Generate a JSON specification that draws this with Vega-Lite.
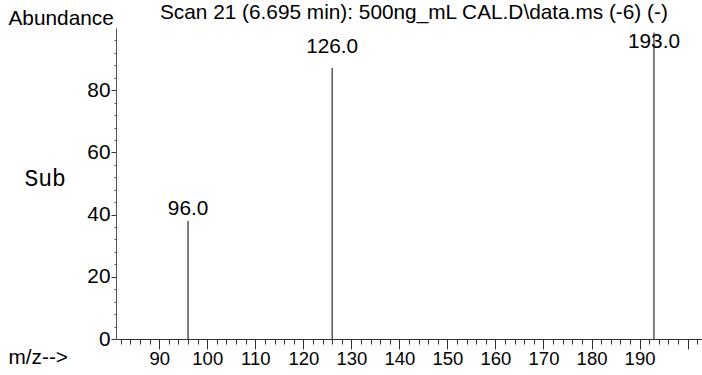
{
  "$schema": "https://vega.github.io/schema/vega-lite/v6.json",
  "width": 586,
  "height": 311,
  "autosize": {"type": "none"},
  "padding": {"left": 116, "top": 28, "right": 0, "bottom": 36},
  "background": "white",
  "title": {
    "text": "Scan 21 (6.695 min): 500ng_mL CAL.D\\data.ms (-6) (-)",
    "anchor": "start",
    "frame": "group",
    "dx": 44,
    "dy": 37,
    "offset": 4,
    "baseline": "alphabetic",
    "font": "Liberation Sans",
    "fontSize": 20.8,
    "fontWeight": "normal",
    "color": "black"
  },
  "data": {
    "values": [
      {"mz": 96, "abundance": 38.0},
      {"mz": 126, "abundance": 87.2},
      {"mz": 193, "abundance": 98.5}
    ]
  },
  "resolve": {"axis": {"x": "independent", "y": "independent"}},
  "layer": [
    {
      "mark": {"type": "rule", "color": "black", "strokeWidth": 1},
      "encoding": {
        "x": {
          "field": "mz", "type": "quantitative",
          "scale": {"domain": [81, 203], "nice": false, "zero": false},
          "axis": {
            "orient": "bottom",
            "values": [90, 100, 110, 120, 130, 140, 150, 160, 170, 180, 190, 200],
            "labelExpr": "datum.value == 200 ? '' : datum.label",
            "labelFontSize": 18.5,
            "tickSize": 10, "labelPadding": 0, "grid": false,
            "domainColor": "#333", "tickColor": "#333",
            "title": "m/z-->", "titleAngle": 0, "titleAlign": "left", "titleBaseline": "middle",
            "titleX": -108, "titleY": 18
          }
        },
        "y": {
          "field": "abundance", "type": "quantitative",
          "scale": {"domain": [0, 100], "nice": false},
          "axis": {
            "orient": "left",
            "values": [0, 20, 40, 60, 80],
            "tickSize": 5, "labelPadding": 1, "grid": false,
            "domainColor": "#555", "tickColor": "#333",
            "title": "Abundance", "titleAngle": 0, "titleAlign": "left", "titleBaseline": "alphabetic",
            "titleX": -108, "titleY": -4
          }
        },
        "y2": {"datum": 0}
      }
    },
    {
      "transform": [{"filter": "datum.mz == 96"}],
      "mark": {"type": "text", "baseline": "alphabetic", "align": "center", "dy": -6, "font": "Liberation Sans", "fontSize": 20.8, "color": "black"},
      "encoding": {
        "x": {
          "field": "mz", "type": "quantitative",
          "axis": {
            "orient": "bottom",
            "values": [82, 84, 86, 88, 92, 94, 96, 98, 102, 104, 106, 108, 112, 114, 116, 118, 122, 124, 126, 128, 132, 134, 136, 138, 142, 144, 146, 148, 152, 154, 156, 158, 162, 164, 166, 168, 172, 174, 176, 178, 182, 184, 186, 188, 192, 194, 196, 198, 202],
            "labels": false, "tickSize": 5, "domain": false, "grid": false, "tickColor": "#333", "title": null
          }
        },
        "y": {
          "field": "abundance", "type": "quantitative",
          "axis": {
            "orient": "left",
            "values": [4, 8, 12, 16, 24, 28, 32, 36, 44, 48, 52, 56, 64, 68, 72, 76, 84, 88, 92, 96],
            "labels": false, "tickSize": 2, "domain": false, "grid": false, "tickColor": "#555",
            "title": "Sub", "titleAngle": 0, "titleAlign": "left", "titleBaseline": "middle",
            "titleX": -92, "titleY": 150, "titleFont": "Liberation Mono", "titleFontSize": 23, "titleFontWeight": "normal", "titleColor": "black"
          }
        },
        "text": {"field": "mz", "type": "quantitative", "format": ".1f"}
      }
    },
    {
      "transform": [{"filter": "datum.mz == 126"}],
      "mark": {"type": "text", "baseline": "alphabetic", "align": "center", "dy": -15, "font": "Liberation Sans", "fontSize": 20.8, "color": "black"},
      "encoding": {
        "x": {"field": "mz", "type": "quantitative", "axis": null},
        "y": {"field": "abundance", "type": "quantitative", "axis": null},
        "text": {"field": "mz", "type": "quantitative", "format": ".1f"}
      }
    },
    {
      "transform": [{"filter": "datum.mz == 193"}],
      "mark": {"type": "text", "baseline": "alphabetic", "align": "center", "dy": 15, "font": "Liberation Sans", "fontSize": 20.8, "color": "black"},
      "encoding": {
        "x": {"field": "mz", "type": "quantitative", "axis": null},
        "y": {"field": "abundance", "type": "quantitative", "axis": null},
        "text": {"field": "mz", "type": "quantitative", "format": ".1f"}
      }
    }
  ],
  "config": {
    "view": {"stroke": null},
    "axis": {
      "labelFont": "Liberation Sans", "labelFontSize": 20.8, "labelColor": "black",
      "titleFont": "Liberation Sans", "titleFontSize": 20.8, "titleFontWeight": "normal", "titleColor": "black",
      "domainWidth": 1, "tickWidth": 1
    }
  }
}
